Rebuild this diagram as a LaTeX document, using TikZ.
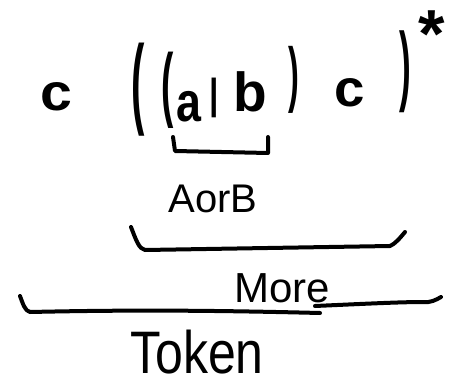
\documentclass[tikz,border=0pt]{standalone}
\usepackage{fontspec}
\setmainfont{Liberation Sans}
\begin{document}
\begin{tikzpicture}[x=1pt,y=-1pt,
  glyph/.style={inner sep=0pt, outer sep=0pt, anchor=center},
  stroke/.style={line width=4pt, line cap=round, line join=round}]
\useasboundingbox (0,0) rectangle (462,390);
% regex glyphs
\node[glyph, font=\fontsize{52}{52}\selectfont\bfseries] (c1) at (56,97) {\scalebox{1.1}[1]{c}};
\node[glyph, font=\fontsize{100}{100}\selectfont\bfseries] (p1) at (138,90) {\scalebox{0.4}[1]{(}};
\node[glyph, font=\fontsize{82}{82}\selectfont\bfseries] (p2) at (168,90) {\scalebox{0.45}[1]{(}};
\node[glyph, font=\fontsize{56}{56}\selectfont\bfseries] (a) at (189,107) {\scalebox{0.8}[1]{a}};
\node[glyph, font=\fontsize{42}{42}\selectfont\bfseries] (bar) at (214,98) {\scalebox{0.8}[1]{|}};
\node[glyph, font=\fontsize{55}{55}\selectfont\bfseries] (b) at (250,92) {b};
\node[glyph, font=\fontsize{72}{72}\selectfont\bfseries] (p3) at (294,80) {\scalebox{0.45}[1]{)}};
\node[glyph, font=\fontsize{52}{52}\selectfont\bfseries] (c2) at (350,93) {\scalebox{1.05}[1]{c}};
\node[glyph, font=\fontsize{88}{88}\selectfont\bfseries] (p4) at (405,72) {\scalebox{0.4}[1]{)}};
\node[glyph, font=\fontsize{68}{68}\selectfont\bfseries] (star) at (432,34) {*};
% labels
\node[glyph, font=\fontsize{40}{40}\selectfont] (aorb) at (213,199) {AorB};
\node[glyph, font=\fontsize{42}{42}\selectfont] (more) at (282,288) {More};
\node[glyph, font=\fontsize{50}{50}\selectfont] (token) at (197,352) {\scalebox{1}[1.2]{Token}};
% brackets
\draw[stroke] (173,137) -- (175,151) -- (268,153) -- (268,137);
\draw[stroke] (131,227) .. controls (136,240) and (139,249) .. (145,250)
  -- (390,246) .. controls (395,244) and (400,238) .. (405,232);
\draw[stroke] (20,296) .. controls (23,304) and (25,311) .. (30,312)
  .. controls (120,310) and (200,310) .. (320,313)
  (315,306) .. controls (360,304) and (400,302) .. (423,302)
  .. controls (430,303) and (436,300) .. (441,297);
\end{tikzpicture}
\end{document}
